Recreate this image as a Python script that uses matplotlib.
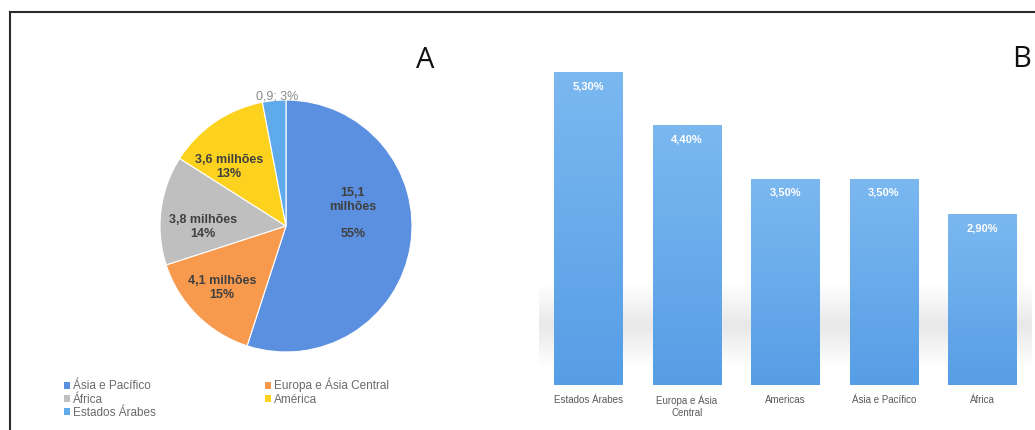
import numpy as np
import matplotlib
matplotlib.use('Agg')
import matplotlib.pyplot as plt
from matplotlib.lines import Line2D
from matplotlib.patches import Patch
from matplotlib.colors import LinearSegmentedColormap

plt.rcParams['font.family'] = ['Liberation Sans', 'DejaVu Sans']

# painel A - pizza
regioes = ['Ásia e Pacífico', 'Europa e Ásia Central', 'África', 'América', 'Estados Árabes']
milhoes = [15.1, 4.1, 3.8, 3.6, 0.9]
percentuais = [55, 15, 14, 13, 3]
rotulos_pizza = ['15,1\nmilhões\n\n55%', '4,1 milhões\n15%', '3,8 milhões\n14%',
                 '3,6 milhões\n13%', '0,9; 3%']
cores_pizza = ['#5b8fdf', '#f79a4e', '#bfbfbf', '#fdd21e', '#5eaaea']

# painel B - barras
categorias = ['Estados Árabes', 'Europa e Ásia\nCentral', 'Americas', 'Ásia e Pacífico', 'África']
taxas = [5.30, 4.40, 3.50, 3.50, 2.90]
rotulos_barras = ['5,30%', '4,40%', '3,50%', '3,50%', '2,90%']

W, H = 1035, 430
fig = plt.figure(figsize=(W / 100, H / 100), dpi=100)


def px_axes(x0, y0, x1, y1):
    # caixa em pixels (origem no canto superior esquerdo)
    return fig.add_axes([x0 / W, 1 - y1 / H, (x1 - x0) / W, (y1 - y0) / H])


# moldura
fig.add_artist(Line2D([10 / W, 1], [1 - 12 / H, 1 - 12 / H], transform=fig.transFigure,
                      color='#2b2b2b', lw=1.5))
fig.add_artist(Line2D([10 / W, 10 / W], [0, 1 - 12 / H], transform=fig.transFigure,
                      color='#2b2b2b', lw=1.5))

# ---- A ----
ax1 = px_axes(160, 100, 412, 352)
wedges, _ = ax1.pie(percentuais, colors=cores_pizza, startangle=90, counterclock=False,
                    radius=1, wedgeprops=dict(edgecolor='white', linewidth=0.8))
ax1.set_xlim(-1, 1)
ax1.set_ylim(-1, 1)
ax1.set_aspect('equal')
ax1.axis('off')

pos_rotulos = [(0.53, 0.10), (-0.51, -0.49), (-0.66, -0.01), (-0.45, 0.47), (-0.07, 1.03)]
for i, txt in enumerate(rotulos_pizza):
    cor = '#8a8a8a' if i == 4 else '#404040'
    peso = 'normal' if i == 4 else 'bold'
    ax1.text(pos_rotulos[i][0], pos_rotulos[i][1], txt, ha='center', va='center',
             fontsize=9, color=cor, fontweight=peso, linespacing=1.2)

fig.text(425 / W, 1 - 68 / H, 'A', fontsize=21, ha='center', va='baseline',
         family='Open Sans', color='#111111')

ordem = [0, 2, 4, 1, 3]
handles = [Patch(facecolor=cores_pizza[i], label=regioes[i]) for i in ordem]
fig.legend(handles=handles, ncol=2, loc='upper left', bbox_to_anchor=(58 / W, 1 - 372 / H),
           frameon=False, fontsize=8.5, handlelength=0.5, handleheight=0.5, handletextpad=0.25,
           columnspacing=9.3, labelspacing=0.1, borderpad=0, labelcolor='#6a6a6a')

# ---- B ----
ax2 = px_axes(539.25, 31, 1031.75, 385)
x = np.arange(len(categorias))
barras = ax2.bar(x, taxas, width=0.70, color='#68abeb', zorder=2)

# sombra cinza atrás das barras
sombra = LinearSegmentedColormap.from_list('sombra', ['#ffffff', '#e8e8e8', '#ffffff'])
grad = np.linspace(0, 1, 100).reshape(-1, 1)
ax2.imshow(grad, extent=(-0.6, 4.6, 0.3, 1.7), cmap=sombra, aspect='auto',
           origin='lower', zorder=1)

# degradê das barras
cmap_barra = LinearSegmentedColormap.from_list('barra', ['#579ee6', '#7bb8f0'])
for b in barras:
    x0, w, h = b.get_x(), b.get_width(), b.get_height()
    im = ax2.imshow(grad, extent=(x0, x0 + w, 0, h), cmap=cmap_barra, aspect='auto',
                    origin='lower', zorder=3)
    im.set_clip_path(b)

ax2.set_xlim(-0.5, len(categorias) - 0.5)
ax2.set_ylim(0, 6)

for xi, v, lab in zip(x, taxas, rotulos_barras):
    ax2.text(xi, v - 0.24, lab, ha='center', va='center', color='white',
             fontsize=8, fontweight='bold', zorder=4)

ax2.set_xticks(x)
ax2.set_xticklabels(categorias, fontsize=7, color='#595959', linespacing=1.2)
ax2.tick_params(axis='x', length=0, pad=7)
ax2.set_yticks([])
for s in ax2.spines.values():
    s.set_visible(False)

fig.text(1022 / W, 1 - 67 / H, 'B', fontsize=21, ha='center', va='baseline',
         family='Open Sans', color='#111111')

fig.savefig('out.png', dpi=100)
